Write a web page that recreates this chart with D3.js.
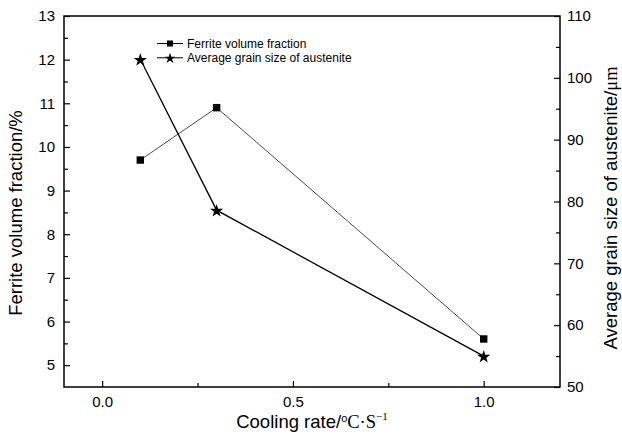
<!DOCTYPE html>
<html><head><meta charset="utf-8">
<script src="https://cdn.jsdelivr.net/npm/d3@7"></script>
<style>
body{margin:0;background:#fff;}
svg{display:block;font-family:"Liberation Sans",Arial,sans-serif;}
</style></head>
<body><svg id="c" width="622" height="435"></svg>
<script>
const coolingRates = [0.1, 0.3, 1.0];
const ferriteFraction = [9.7, 10.9, 5.6];
const grainSize = [103, 78.6, 55];
const xTicks = [0.0, 0.5, 1.0];
const xMinorTicks = [0.25, 0.75];
const yLeftTicks = [5, 6, 7, 8, 9, 10, 11, 12, 13];
const yLeftMinor = [5.5, 6.5, 7.5, 8.5, 9.5, 10.5, 11.5, 12.5];
const yRightTicks = [50, 60, 70, 80, 90, 100, 110];
const yRightMinor = [55, 65, 75, 85, 95, 105];
const legendLabels = ["Ferrite volume fraction", "Average grain size of austenite"];

const svg = d3.select("#c");
const L = 64, R = 560, T = 16, B = 387;
const x = d3.scaleLinear().domain([-0.1, 1.2]).range([L, R]);
const yL = d3.scaleLinear().domain([4.5, 13]).range([B, T]);
const yR = d3.scaleLinear().domain([50, 110]).range([B, T]);

function styleAxis(g){
  g.select(".domain").remove();
  g.selectAll("line").attr("stroke","#000").attr("stroke-width",1.2);
  g.selectAll("text").attr("font-size","15px").attr("fill","#000").attr("font-family","'Liberation Sans',Arial,sans-serif");
}
// x axis
svg.append("g").attr("transform",`translate(0,${B})`)
  .call(d3.axisBottom(x).tickValues(xTicks).tickFormat(d3.format(".1f")).tickSize(-6).tickPadding(9)).call(styleAxis);
svg.append("g").attr("transform",`translate(0,${B})`)
  .call(d3.axisBottom(x).tickValues(xMinorTicks).tickFormat("").tickSize(-4)).call(styleAxis);
// left axis
svg.append("g").attr("transform",`translate(${L},0)`)
  .call(d3.axisLeft(yL).tickValues(yLeftTicks).tickFormat(d3.format("d")).tickSize(-6).tickPadding(9)).call(styleAxis);
svg.append("g").attr("transform",`translate(${L},0)`)
  .call(d3.axisLeft(yL).tickValues(yLeftMinor).tickFormat("").tickSize(-4)).call(styleAxis);
// right axis
svg.append("g").attr("transform",`translate(${R},0)`)
  .call(d3.axisRight(yR).tickValues(yRightTicks).tickFormat(d3.format("d")).tickSize(-6).tickPadding(7)).call(styleAxis);
svg.append("g").attr("transform",`translate(${R},0)`)
  .call(d3.axisRight(yR).tickValues(yRightMinor).tickFormat("").tickSize(-4)).call(styleAxis);

// frame
svg.append("rect").attr("x",L).attr("y",T).attr("width",R-L).attr("height",B-T)
  .attr("fill","none").attr("stroke","#000").attr("stroke-width",1.5);

// lines
const ferr = coolingRates.map((c,i)=>[c, ferriteFraction[i]]);
const grain = coolingRates.map((c,i)=>[c, grainSize[i]]);
svg.append("path").datum(ferr).attr("fill","none").attr("stroke","#333").attr("stroke-width",0.9)
  .attr("d", d3.line().x(d=>x(d[0])).y(d=>yL(d[1])));
svg.append("path").datum(grain).attr("fill","none").attr("stroke","#000").attr("stroke-width",1.3)
  .attr("d", d3.line().x(d=>x(d[0])).y(d=>yR(d[1])));

const sq = d3.symbol().type(d3.symbolSquare).size(55);
const st = d3.symbol().type(d3.symbolStar).size(55);
svg.selectAll(".sq").data(ferr).join("path").attr("d",sq)
  .attr("transform",d=>`translate(${x(d[0])},${yL(d[1])})`).attr("fill","#000");
svg.selectAll(".st").data(grain).join("path").attr("d",st)
  .attr("transform",d=>`translate(${x(d[0])},${yR(d[1])+0.8})`).attr("fill","#000");

// legend
const lg = svg.append("g");
const syms = [d3.symbol().type(d3.symbolSquare).size(36)(), d3.symbol().type(d3.symbolStar).size(36)()];
legendLabels.forEach((t,i)=>{
  const yy = 43.5 + i*14.3;
  lg.append("line").attr("x1",157).attr("x2",183).attr("y1",yy).attr("y2",yy).attr("stroke","#000").attr("stroke-width",1);
  lg.append("path").attr("d",syms[i]).attr("transform",`translate(170,${yy + (i?0.6:0)})`).attr("fill","#000");
  lg.append("text").attr("x",187).attr("y",yy+4.3).attr("font-size","12px").text(t);
});

// axis titles
const bt = svg.append("text").attr("x",(L+R)/2).attr("y",428).attr("text-anchor","middle").attr("font-size","18.5px");
bt.append("tspan").text("Cooling rate/");
bt.append("tspan").attr("font-size","11px").attr("dy","-6").text("o");
bt.append("tspan").attr("dy","6").attr("font-family","'Liberation Serif','Times New Roman',serif").text("C·S");
bt.append("tspan").attr("font-size","11px").attr("dy","-8").attr("font-family","'Liberation Serif','Times New Roman',serif").text("−1");

svg.append("text").attr("transform","translate(22,213) rotate(-90)").attr("text-anchor","middle")
  .attr("font-size","18.5px").text("Ferrite volume fraction/%");
const rt = svg.append("text").attr("transform","translate(617,208) rotate(-90)").attr("text-anchor","middle")
  .attr("font-size","18.5px");
rt.append("tspan").text("Average grain size of austenite/");
rt.append("tspan").attr("font-family","'Liberation Serif','Times New Roman',serif").text("μm");
</script></body></html>
